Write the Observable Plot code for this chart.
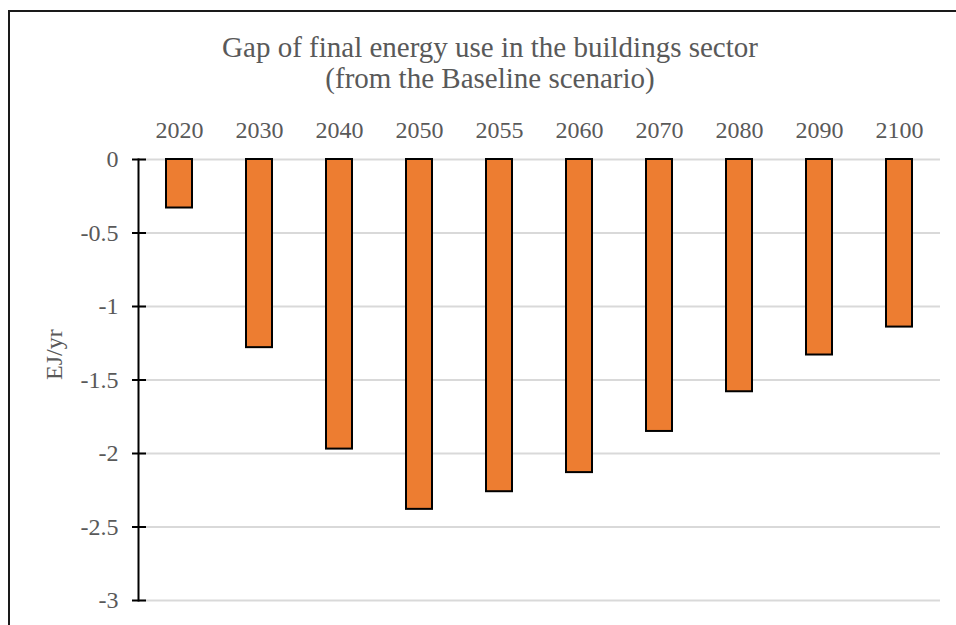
<!DOCTYPE html>
<html>
<head>
<meta charset="utf-8">
<script src="https://cdn.jsdelivr.net/npm/d3@7"></script>
<script src="https://cdn.jsdelivr.net/npm/@observablehq/plot@0.6"></script>
<style>
  html, body { margin: 0; padding: 0; background: #fff; overflow: hidden; }
  #wrap { position: relative; width: 956px; height: 625px; overflow: hidden; font-family: "Liberation Serif", "Times New Roman", serif; }
  #border { position: absolute; left: 8px; top: 10px; width: 1100px; height: 800px; border: 2px solid #1a1a1a; box-sizing: border-box; }
  #title { position: absolute; left: 140px; width: 700px; top: 32px; text-align: center; color: #595959; font-size: 29px; line-height: 31px; white-space: nowrap; }
  #chart { position: absolute; left: 0; top: 0; }
</style>
</head>
<body>
<div id="wrap">
  <div id="border"></div>
  <div id="chart"></div>
  <div id="title"><div>Gap of final energy use in the buildings sector</div><div>(from the Baseline scenario)</div></div>
</div>
<script>
const years = ["2020", "2030", "2040", "2050", "2055", "2060", "2070", "2080", "2090", "2100"];
const values = [-0.33, -1.28, -1.97, -2.38, -2.26, -2.13, -1.85, -1.58, -1.33, -1.14];
const yTicks = [0, -0.5, -1, -1.5, -2, -2.5, -3];
const yLabel = "EJ/yr";

const data = years.map((y, i) => ({year: y, value: values[i]}));
const font = "Liberation Serif, Times New Roman, serif";

const chart = Plot.plot({
  width: 956,
  height: 625,
  marginLeft: 138,
  marginRight: 16,
  marginTop: 159,
  marginBottom: 25,
  style: {fontFamily: font, fontSize: "24px", background: "transparent", color: "#595959"},
  x: {domain: years, paddingInner: 0.675, paddingOuter: 0.3375, axis: null},
  y: {domain: [-3, 0], axis: null},
  marks: [
    Plot.gridY(yTicks, {stroke: "#d9d9d9", strokeOpacity: 1, strokeWidth: 2}),
    Plot.barY(data, {x: "year", y: "value", fill: "#ED7D31", stroke: "#000", strokeWidth: 2}),
    Plot.frame({anchor: "left", stroke: "#000", strokeWidth: 2}),
    Plot.axisY({ticks: yTicks, tickSize: 14, dx: 8, tickPadding: 14, stroke: "#000", strokeWidth: 2, strokeOpacity: 1, fill: "#595959", fontSize: 24, tickFormat: d => String(d), label: null}),
    Plot.axisX({anchor: "top", tickSize: 0, tickPadding: 22, fill: "#595959", fontSize: 24, label: null}),
    Plot.text([yLabel], {frameAnchor: "left", rotate: -90, dx: -84, fill: "#595959", fontSize: 24})
  ]
});
document.getElementById("chart").appendChild(chart);
</script>
</body>
</html>
